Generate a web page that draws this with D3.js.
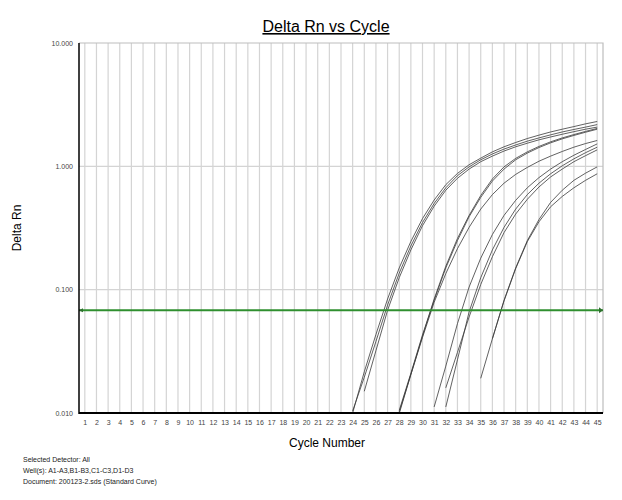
<!DOCTYPE html>
<html>
<head>
<meta charset="utf-8">
<script src="https://cdn.jsdelivr.net/npm/d3@7"></script>
<style>
  body { margin: 0; background: #fff; }
  svg { font-family: "Liberation Sans", Arial, sans-serif; }
</style>
</head>
<body>
<div id="chart"></div>
<script>
// cycle numbers along the x axis
let cycles = d3.range(1, 46)
let yTicks = [0.01, 0.1, 1, 10]
let threshold = 0.068

// wells, first cycle with a positive value, then one value per cycle to 45
let wells = ['A1', 'A2', 'A3', 'B1', 'B2', 'B3', 'C1', 'C2', 'C3', 'D1', 'D2']
let startCycles = [24, 24, 25, 28, 28, 28, 31, 32, 32, 35, 36]

let a1 = [0.0100, 0.0216, 0.0433, 0.084, 0.150, 0.246, 0.377, 0.533, 0.71, 0.876, 1.03, 1.165,
    1.31, 1.44, 1.56, 1.68, 1.79, 1.90, 2.00, 2.10, 2.21, 2.31]
let a2 = [0.0104, 0.0195, 0.038, 0.075, 0.136, 0.226, 0.35, 0.50, 0.67, 0.84, 0.99, 1.13,
    1.26, 1.38, 1.49, 1.60, 1.70, 1.80, 1.90, 1.99, 2.08, 2.18]
let a3 = [0.0150, 0.032, 0.068, 0.125, 0.21, 0.33, 0.475, 0.64, 0.80, 0.95, 1.09,
    1.21, 1.33, 1.44, 1.54, 1.64, 1.73, 1.82, 1.91, 2.00, 2.08]
let b1 = [0.0099, 0.0205, 0.042, 0.084, 0.155, 0.26, 0.40, 0.58, 0.79, 0.99, 1.16, 1.31,
    1.45, 1.58, 1.70, 1.81, 1.92, 2.03]
let b2 = [0.0105, 0.021, 0.043, 0.082, 0.150, 0.25, 0.39, 0.56, 0.76, 0.95, 1.13, 1.28,
    1.42, 1.55, 1.67, 1.78, 1.89, 2.00]
let b3 = [0.0102, 0.0205, 0.041, 0.079, 0.135, 0.215, 0.32, 0.45, 0.59, 0.73, 0.86, 0.98,
    1.10, 1.21, 1.32, 1.43, 1.53, 1.62]
let c1 = [0.0112, 0.024, 0.053, 0.105, 0.18, 0.28, 0.40, 0.53, 0.67, 0.81, 0.95, 1.09,
    1.23, 1.37, 1.52]
let c2 = [0.0112, 0.027, 0.066, 0.125, 0.21, 0.32, 0.45, 0.59, 0.73, 0.87, 1.01, 1.15,
    1.29, 1.43]
let c3 = [0.0160, 0.031, 0.060, 0.11, 0.185, 0.29, 0.41, 0.54, 0.68, 0.82, 0.95, 1.09,
    1.22, 1.36]
let d1 = [0.0191, 0.040, 0.082, 0.15, 0.25, 0.37, 0.51, 0.64, 0.77, 0.88, 0.99]
let d2 = [0.040, 0.081, 0.148, 0.245, 0.355, 0.47, 0.57, 0.67, 0.77, 0.87]

let seriesValues = [a1, a2, a3, b1, b2, b3, c1, c2, c3, d1, d2]

let infoLines = [
    'Selected Detector: All',
    'Well(s): A1-A3,B1-B3,C1-C3,D1-D3',
    'Document: 200123-2.sds (Standard Curve)'
]

// layout
let width = 622
let height = 500
let plot = { left: 79, right: 603, top: 43, bottom: 413 }

let svg = d3.select('#chart')
    .append('svg')
    .attr('width', width)
    .attr('height', height)

let x = d3.scaleLinear()
    .domain([0.5, 45.5])
    .range([plot.left, plot.right])

let y = d3.scaleLog()
    .domain([0.01, 10])
    .range([plot.bottom, plot.top])

svg.append('clipPath')
    .attr('id', 'plotClip')
    .append('rect')
    .attr('x', plot.left)
    .attr('y', plot.top)
    .attr('width', plot.right - plot.left)
    .attr('height', plot.bottom - plot.top)

// vertical grid, one line per cycle
svg.append('g')
    .selectAll('line')
    .data(cycles)
    .join('line')
    .attr('x1', d => x(d))
    .attr('x2', d => x(d))
    .attr('y1', plot.top)
    .attr('y2', plot.bottom)
    .style('stroke', '#d4d4d4')
    .style('stroke-width', 1.2)

// horizontal grid at decades
svg.append('g')
    .selectAll('line')
    .data(yTicks.slice(1, 3))
    .join('line')
    .attr('x1', plot.left)
    .attr('x2', plot.right)
    .attr('y1', d => y(d))
    .attr('y2', d => y(d))
    .style('stroke', '#d4d4d4')
    .style('stroke-width', 1.2)

// top and right border
svg.append('path')
    .attr('d', `M${plot.left},${plot.top}H${plot.right}V${plot.bottom}`)
    .style('fill', 'none')
    .style('stroke', '#bdbdbd')
    .style('stroke-width', 1.2)

// amplification curves
let line = d3.line()
    .x(d => x(d.cycle))
    .y(d => y(d.value))

let curves = seriesValues.map((vals, i) => vals.map((v, j) => ({ cycle: startCycles[i] + j, value: v })))

svg.append('g')
    .attr('clip-path', 'url(#plotClip)')
    .selectAll('path')
    .data(curves)
    .join('path')
    .attr('d', line)
    .style('fill', 'none')
    .style('stroke', '#3a3a3a')
    .style('stroke-width', 0.8)

// threshold line
svg.append('line')
    .attr('x1', plot.left)
    .attr('x2', plot.right)
    .attr('y1', y(threshold))
    .attr('y2', y(threshold))
    .style('stroke', '#2f8f2f')
    .style('stroke-width', 2)

svg.append('path')
    .attr('d', `M${plot.right - 4},${y(threshold) - 3}L${plot.right},${y(threshold)}L${plot.right - 4},${y(threshold) + 3}Z`)
    .style('fill', '#2f6f2f')

svg.append('path')
    .attr('d', `M${plot.left + 4},${y(threshold) - 2}L${plot.left},${y(threshold)}L${plot.left + 4},${y(threshold) + 2}Z`)
    .style('fill', '#2f6f2f')

// axes lines
svg.append('line')
    .attr('x1', plot.left)
    .attr('x2', plot.left)
    .attr('y1', plot.top)
    .attr('y2', plot.bottom + 1)
    .style('stroke', '#000')
    .style('stroke-width', 1.5)

svg.append('line')
    .attr('x1', plot.left)
    .attr('x2', plot.right)
    .attr('y1', plot.bottom)
    .attr('y2', plot.bottom)
    .style('stroke', '#000')
    .style('stroke-width', 2)

// y axis labels
let yAxis = d3.axisLeft(y)
    .tickValues(yTicks)
    .tickFormat(d3.format('.3f'))
    .tickSize(0)
    .tickPadding(6)

let yG = svg.append('g')
    .attr('transform', `translate(${plot.left},0)`)
    .call(yAxis)
yG.select('.domain').remove()
yG.selectAll('text')
    .style('font-size', '7px')
    .style('fill', '#444')
    .style('font-family', '"Liberation Sans", Arial, sans-serif')

// x axis labels
let xAxis = d3.axisBottom(x)
    .tickValues(cycles)
    .tickFormat(d3.format('d'))
    .tickSize(0)
    .tickPadding(7)

let xG = svg.append('g')
    .attr('transform', `translate(0,${plot.bottom})`)
    .call(xAxis)
xG.select('.domain').remove()
xG.selectAll('text')
    .style('font-size', '7px')
    .style('fill', '#444')
    .style('font-family', '"Liberation Sans", Arial, sans-serif')

// title
svg.append('text')
    .attr('x', 326)
    .attr('y', 32)
    .attr('text-anchor', 'middle')
    .style('font-size', '16px')
    .style('text-decoration', 'underline')
    .style('fill', '#000')
    .text('Delta Rn vs Cycle')

svg.append('text')
    .attr('x', 327)
    .attr('y', 447)
    .attr('text-anchor', 'middle')
    .style('font-size', '12px')
    .style('fill', '#000')
    .text('Cycle Number')

svg.append('text')
    .attr('transform', 'translate(21,228) rotate(-90)')
    .attr('text-anchor', 'middle')
    .style('font-size', '12px')
    .style('fill', '#000')
    .text('Delta Rn')

// info text under the chart
svg.append('g')
    .selectAll('text')
    .data(infoLines)
    .join('text')
    .attr('x', 23)
    .attr('y', (d, i) => 462 + i * 11)
    .style('font-size', '7px')
    .style('fill', '#222')
    .text(d => d)
</script>
</body>
</html>
